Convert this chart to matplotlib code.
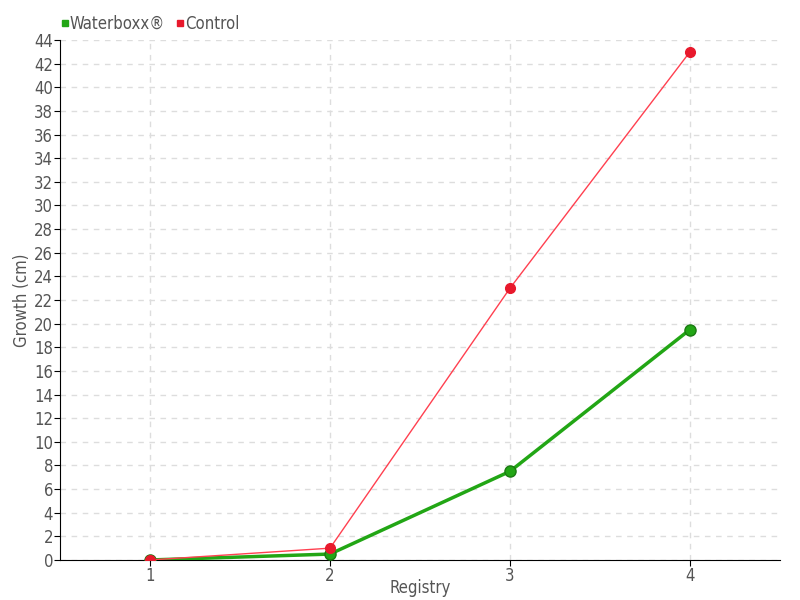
import numpy as np
import matplotlib.pyplot as plt
from matplotlib.lines import Line2D

registry = [1, 2, 3, 4]
waterboxx = [0, 0.5, 7.5, 19.5]
control = [0, 1, 23, 43]

plt.rcParams['font.family'] = ['DejaVu Sans']
plt.rcParams['font.stretch'] = 'condensed'
txt = '#555555'

fig = plt.figure(figsize=(8, 6), dpi=100)
ax = fig.add_axes([0.075, 0.0667, 0.9, 0.8667])

ax.plot(registry, waterboxx, color='#22a615', lw=2.5, marker='o', ms=8,
        mfc='#22a615', mec='#1b7a12', mew=1, zorder=3)
ax.plot(registry, control, color='#ff4050', lw=1, marker='o', ms=7,
        mfc='#e8192c', mec='#e8192c', zorder=4)

ax.set_xlim(0.5, 4.5)
ax.set_ylim(0, 44)
ax.set_xticks(registry)
ax.set_yticks(np.arange(0, 45, 2))
ax.grid(True, color='#dddddd', ls=(0, (4, 4)), lw=1)
ax.set_axisbelow(True)
for s in ['top', 'right']:
    ax.spines[s].set_visible(False)
ax.tick_params(colors='black', labelcolor=txt, labelsize=12, length=4, pad=1)
ax.set_xlabel('Registry', color=txt, fontsize=12, labelpad=-4)
ax.set_ylabel('Growth (cm)', color=txt, fontsize=12)
ax.yaxis.set_label_coords(-0.04, 0.5)

handles = [Line2D([], [], ls='', marker='s', ms=5, color='#22a615'),
           Line2D([], [], ls='', marker='s', ms=5, color='#e8192c')]
leg = fig.legend(handles, ['Waterboxx®', 'Control'], loc='upper left',
                 bbox_to_anchor=(0.05, 1.0), ncol=2, frameon=False,
                 handletextpad=-0.3, columnspacing=0.3, handlelength=1.2,
                 fontsize=12)
for t in leg.get_texts():
    t.set_color(txt)

fig.savefig('out.png', dpi=100)
